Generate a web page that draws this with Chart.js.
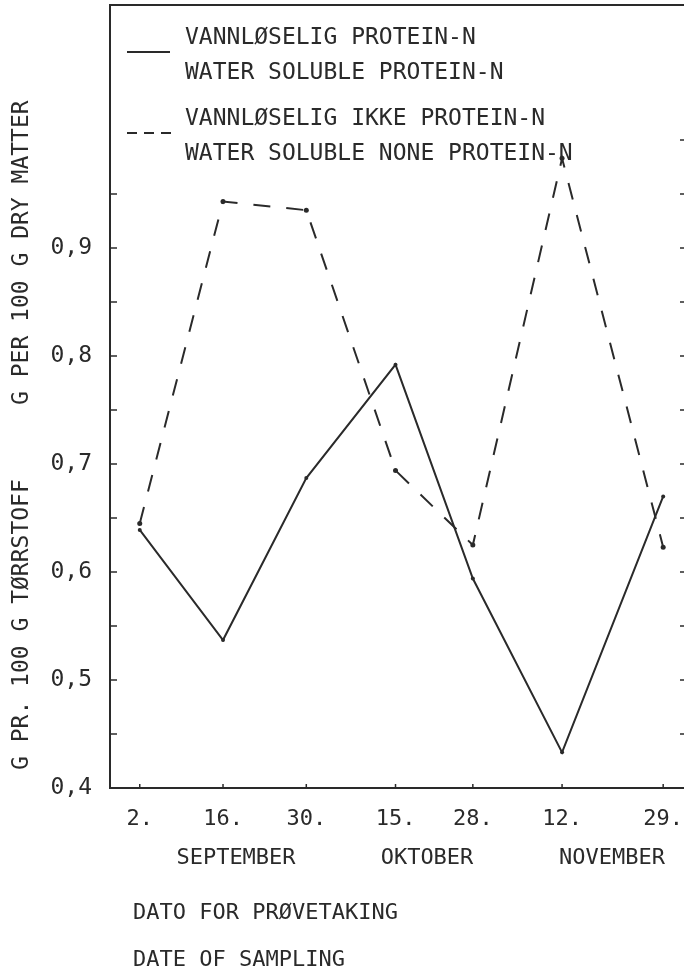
<!DOCTYPE html>
<html>
<head>
<meta charset="utf-8">
<script src="https://cdn.jsdelivr.net/npm/chart.js@4.4.0/dist/chart.umd.min.js"></script>
<style>
  html, body { margin: 0; padding: 0; background: #fff; overflow: hidden; }
  #wrap { width: 684px; height: 972px; }
</style>
</head>
<body>
<div id="wrap"><canvas id="myChart"></canvas></div>
<script>
// sampling dates (day number counted from 2. september)
const dayLabels = ["2.", "16.", "30.", "15.", "28.", "12.", "29."];
const sampleDays = [0, 14, 28, 43, 56, 71, 88];
const months = ["SEPTEMBER", "OKTOBER", "NOVEMBER"];

// g per 100 g dry matter
const proteinN = [0.639, 0.537, 0.687, 0.792, 0.594, 0.433, 0.67];
const nonProteinN = [0.645, 0.943, 0.935, 0.694, 0.625, 0.983, 0.623];

const legendLines = [
  ["VANNLØSELIG PROTEIN-N", "WATER SOLUBLE PROTEIN-N"],
  ["VANNLØSELIG IKKE PROTEIN-N", "WATER SOLUBLE NONE PROTEIN-N"],
];
const yTitles = ["G PR. 100 G TØRRSTOFF", "G PER 100 G DRY MATTER"];
const xTitles = ["DATO FOR PRØVETAKING", "DATE OF SAMPLING"];

const ink = "#2a2a2a";
const mono = "'DejaVu Sans Mono', 'Liberation Mono', monospace";

// frame, inward tick marks and the typed labels around the plot
const paperPlugin = {
  id: "paper",
  afterDraw(chart) {
    const { ctx, chartArea: a, scales: { x, y } } = chart;
    ctx.save();
    ctx.strokeStyle = ink;
    ctx.fillStyle = ink;

    // open frame: left axis, bottom axis, top edge
    ctx.lineWidth = 2;
    ctx.beginPath();
    ctx.moveTo(a.right, a.top);
    ctx.lineTo(a.left, a.top);
    ctx.lineTo(a.left, a.bottom);
    ctx.lineTo(a.right, a.bottom);
    ctx.stroke();

    ctx.lineWidth = 1.5;
    y.ticks.forEach((t) => {
      if (t.value < 0.41) return;
      const py = y.getPixelForValue(t.value);
      if (t.value < 0.96) {
        ctx.beginPath();
        ctx.moveTo(a.left, py);
        ctx.lineTo(a.left + 7, py);
        ctx.stroke();
      }
      if (t.value < 1.01) {
        ctx.beginPath();
        ctx.moveTo(a.right - 4, py);
        ctx.lineTo(a.right, py);
        ctx.stroke();
      }
    });
    x.ticks.forEach((t) => {
      const px = x.getPixelForValue(t.value);
      ctx.beginPath();
      ctx.moveTo(px, a.bottom);
      ctx.lineTo(px, a.bottom - 4);
      ctx.stroke();
    });

    // legend
    ctx.lineWidth = 2;
    ctx.beginPath();
    ctx.moveTo(127, 52);
    ctx.lineTo(170, 52);
    ctx.stroke();
    ctx.setLineDash([10, 7]);
    ctx.beginPath();
    ctx.moveTo(127, 133);
    ctx.lineTo(172, 133);
    ctx.stroke();
    ctx.setLineDash([]);

    ctx.font = "23px " + mono;
    ctx.textBaseline = "middle";
    ctx.textAlign = "left";
    ctx.fillText(legendLines[0][0], 185, 38);
    ctx.fillText(legendLines[0][1], 185, 73);
    ctx.fillText(legendLines[1][0], 185, 119);
    ctx.fillText(legendLines[1][1], 185, 154);

    // month names under the day ticks
    ctx.font = "22px " + mono;
    ctx.textAlign = "center";
    ctx.fillText(months[0], 236, 858);
    ctx.fillText(months[1], 427, 858);
    ctx.fillText(months[2], 612, 858);

    // x title
    ctx.textAlign = "left";
    ctx.fillText(xTitles[0], 133, 913);
    ctx.fillText(xTitles[1], 133, 960);

    // y title, written upwards
    ctx.font = "23px " + mono;
    ctx.save();
    ctx.translate(22, 770);
    ctx.rotate(-Math.PI / 2);
    ctx.fillText(yTitles[0], 0, 0);
    ctx.restore();
    ctx.save();
    ctx.translate(22, 405);
    ctx.rotate(-Math.PI / 2);
    ctx.fillText(yTitles[1], 0, 0);
    ctx.restore();

    ctx.restore();
  },
};

const ctx = document.querySelector("#myChart");

const myChart = new Chart(ctx, {
  type: "line",
  data: {
    datasets: [
      {
        label: legendLines[0][1],
        data: sampleDays.map((d, i) => ({ x: d, y: proteinN[i] })),
        borderColor: ink,
        borderWidth: 2,
        pointRadius: 2,
        pointBorderWidth: 0,
        pointBackgroundColor: ink,
        tension: 0,
      },
      {
        label: legendLines[1][1],
        data: sampleDays.map((d, i) => ({ x: d, y: nonProteinN[i] })),
        borderColor: ink,
        borderWidth: 2,
        borderDash: [17, 16],
        pointRadius: 2.5,
        pointBorderWidth: 0,
        pointBackgroundColor: ink,
        tension: 0,
      },
    ],
  },
  options: {
    responsive: true,
    maintainAspectRatio: false,
    animation: false,
    layout: { autoPadding: false, padding: { top: 5, right: 0, bottom: 0, left: 0 } },
    plugins: {
      legend: { display: false },
      tooltip: { enabled: false },
    },
    scales: {
      x: {
        type: "linear",
        min: -5,
        max: 91.5,
        afterBuildTicks: (s) => {
          s.ticks = sampleDays.map((v) => ({ value: v }));
        },
        afterFit: (s) => {
          s.height = 184;
          s.paddingLeft = 0;
          s.paddingRight = 0;
          s.paddingTop = 0;
          s.paddingBottom = 0;
        },
        grid: { display: false, drawTicks: false },
        border: { display: false },
        ticks: {
          autoSkip: false,
          maxRotation: 0,
          padding: 18,
          color: ink,
          font: { family: mono, size: 22 },
          callback: (v, i) => dayLabels[i],
        },
      },
      y: {
        min: 0.4,
        max: 1.125,
        afterFit: (s) => {
          s.width = 110;
          s.paddingLeft = 0;
          s.paddingRight = 0;
          s.paddingTop = 0;
          s.paddingBottom = 0;
        },
        grid: { display: false, drawTicks: false },
        border: { display: false },
        ticks: {
          stepSize: 0.05,
          includeBounds: false,
          padding: 18,
          color: ink,
          font: { family: mono, size: 23 },
          callback: (v) => {
            const r = Math.round(v * 100);
            if (r % 10 !== 0 || r > 90) return "";
            return (r / 100).toFixed(1).replace(".", ",");
          },
        },
      },
    },
  },
  plugins: [paperPlugin],
});
</script>
</body>
</html>
